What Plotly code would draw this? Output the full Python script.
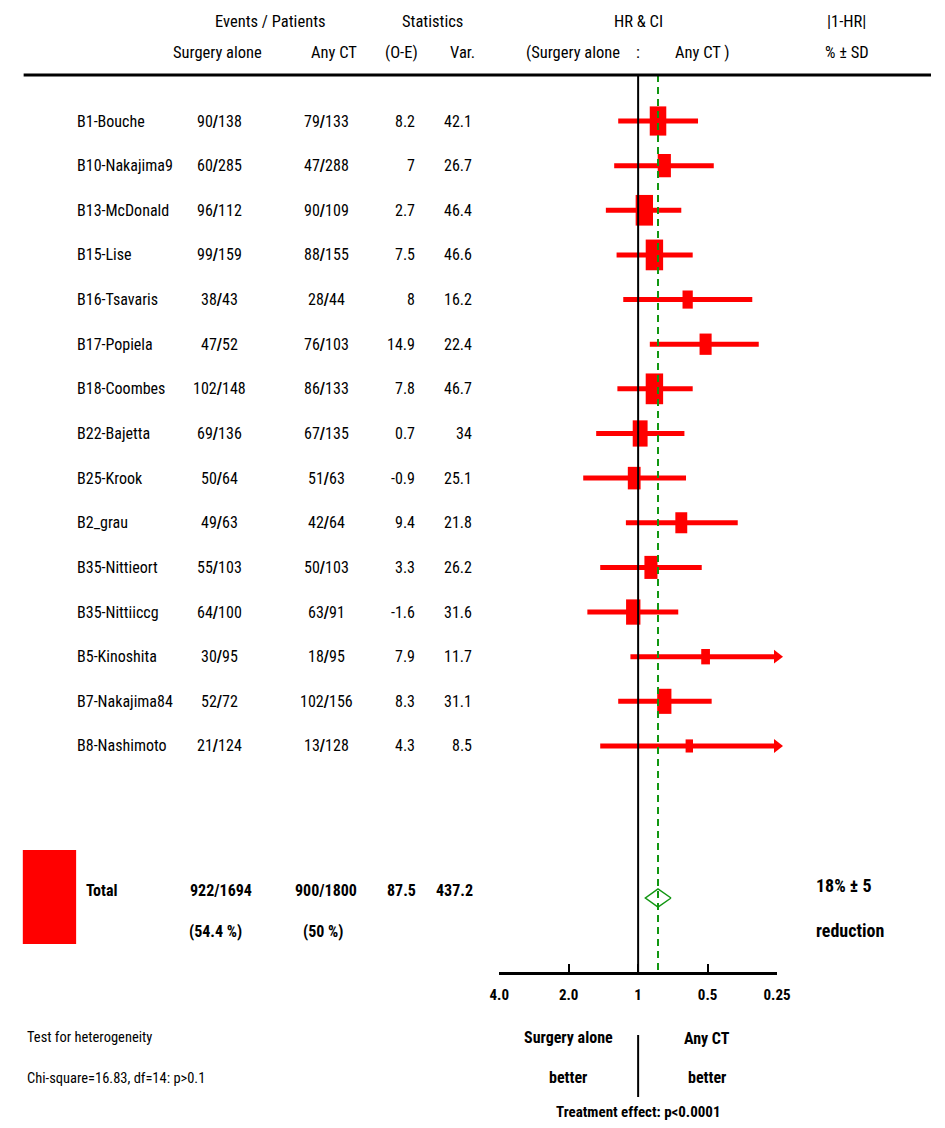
import math
import plotly.graph_objects as go

W, H = 945, 1128

# ---------------- data ----------------
trials = ["B1-Bouche", "B10-Nakajima9", "B13-McDonald", "B15-Lise", "B16-Tsavaris",
          "B17-Popiela", "B18-Coombes", "B22-Bajetta", "B25-Krook", "B2_grau",
          "B35-Nittieort", "B35-Nittiiccg", "B5-Kinoshita", "B7-Nakajima84", "B8-Nashimoto"]
surg_events = [90, 60, 96, 99, 38, 47, 102, 69, 50, 49, 55, 64, 30, 52, 21]
surg_patients = [138, 285, 112, 159, 43, 52, 148, 136, 64, 63, 103, 100, 95, 72, 124]
ct_events = [79, 47, 90, 88, 28, 76, 86, 67, 51, 42, 50, 63, 18, 102, 13]
ct_patients = [133, 288, 109, 155, 44, 103, 133, 135, 63, 64, 103, 91, 95, 156, 128]
o_minus_e = [8.2, 7, 2.7, 7.5, 8, 14.9, 7.8, 0.7, -0.9, 9.4, 3.3, -1.6, 7.9, 8.3, 4.3]
variance = [42.1, 26.7, 46.4, 46.6, 16.2, 22.4, 46.7, 34, 25.1, 21.8, 26.2, 31.6, 11.7, 31.1, 8.5]
hr = [0.82, 0.77, 0.94, 0.85, 0.61, 0.51, 0.85, 0.98, 1.04, 0.65, 0.88, 1.05, 0.51, 0.77, 0.60]
hr_lo = [0.55, 0.47, 0.65, 0.58, 0.32, 0.30, 0.58, 0.63, 0.62, 0.37, 0.53, 0.67, 0.24, 0.48, 0.249]
hr_hi = [1.22, 1.27, 1.38, 1.24, 1.16, 0.89, 1.23, 1.52, 1.73, 1.13, 1.46, 1.66, 1.08, 1.22, 1.46]

total_surg_events, total_surg_patients, total_surg_pct = 922, 1694, 54.4
total_ct_events, total_ct_patients, total_ct_pct = 900, 1800, 50
total_oe, total_var = 87.5, 437.2
total_hr, total_lo, total_hi = 0.82, 0.72, 0.93
reduction_pct, reduction_sd = 18, 5

x_ticks = [4.0, 2.0, 1.0, 0.5, 0.25]
x_tick_labels = ["4.0", "2.0", "1", "0.5", "0.25"]

# ---------------- layout helpers ----------------
ROW0, ROWH = 121.0, 44.64          # pixel y of first row, row spacing


def ry(px):      # pixel y -> row units on the y axis
    return (px - ROW0) / ROWH


def pxx(px):     # pixel x -> paper x
    return px / W


def pyy(px):     # pixel y -> paper y
    return 1 - px / H


FONT = "Roboto Condensed, Liberation Sans Narrow, Arial Narrow, sans-serif"
RED = "#ff0000"
GREEN = "#119611"

rows = list(range(len(trials)))
diamond_row = ry(898)
x_min, x_max = min(x_ticks), max(x_ticks)

fig = go.Figure()

# confidence interval lines
cx, cy = [], []
for lo, hi, r in zip(hr_lo, hr_hi, rows):
    cx += [lo, hi, None]
    cy += [r, r, None]
fig.add_trace(go.Scatter(x=cx, y=cy, mode="lines", line=dict(color=RED, width=5),
                         hoverinfo="skip", showlegend=False))

# squares (area proportional to variance), drawn as thick vertical strokes
SW, SH = 2.55, 4.5   # square width/height in px per sqrt(variance)
for h_, v, r in zip(hr, variance, rows):
    half = SH * math.sqrt(v) / 2 / ROWH
    fig.add_trace(go.Scatter(x=[h_, h_], y=[r - half, r + half], mode="lines",
                             line=dict(color=RED, width=SW * math.sqrt(v)),
                             hoverinfo="skip", showlegend=False))

# arrows for intervals running past the axis
ax_, ay_ = [], []
for lo, r in zip(hr_lo, rows):
    if lo < x_min:
        ax_.append(x_min)
        ay_.append(r)
fig.add_trace(go.Scatter(x=ax_, y=ay_, mode="markers", cliponaxis=False,
                         marker=dict(symbol="triangle-right", size=12, color=RED, line=dict(width=0)),
                         hoverinfo="skip", showlegend=False))

# reference line at HR = 1 and overall effect line
top_r, axis_r = ry(75), ry(973)
fig.add_trace(go.Scatter(x=[1, 1, None, 1, 1], y=[top_r, axis_r, None, ry(1035), ry(1097)],
                         mode="lines", line=dict(color="black", width=2),
                         hoverinfo="skip", showlegend=False))
fig.add_trace(go.Scatter(x=[total_hr, total_hr], y=[top_r, axis_r], mode="lines",
                         line=dict(color=GREEN, width=2, dash="7px,5px"),
                         hoverinfo="skip", showlegend=False))

# overall diamond
dh = 9 / ROWH
fig.add_trace(go.Scatter(x=[total_lo, total_hr, total_hi, total_hr, total_lo],
                         y=[diamond_row, diamond_row - dh, diamond_row, diamond_row + dh, diamond_row],
                         mode="lines", line=dict(color=GREEN, width=1.5),
                         hoverinfo="skip", showlegend=False))

shapes = []
# total box
w = SW * math.sqrt(total_var) / 2
hh = SH * math.sqrt(total_var) / 2
shapes.append(dict(type="rect", xref="paper", yref="paper", xsizemode="pixel", ysizemode="pixel",
                   xanchor=pxx(40.5), yanchor=pyy(897), x0=-w, x1=w, y0=-hh, y1=hh,
                   fillcolor=RED, line=dict(width=0)))
# header rule
shapes.append(dict(type="line", xref="paper", yref="paper", x0=pxx(14), x1=1,
                   y0=pyy(75), y1=pyy(75), line=dict(color="black", width=3)))

ann = []


def txt(text, x, y, anchor="center", size=16, bold=False, yref="paper", color="black"):
    if bold:
        text = "<b>" + text + "</b>"
    ann.append(dict(text=text, x=pxx(x), xref="paper", xanchor=anchor,
                    y=(pyy(y) if yref == "paper" else y), yref=yref, yanchor="middle",
                    showarrow=False, font=dict(family=FONT, size=size, color=color)))


# headers
HS = 16.5
txt("Events / Patients", 267, 22, size=HS)
txt("Statistics", 433, 22, size=HS)
txt("HR &amp; CI", 645, 22, size=HS)
txt("|1-HR|", 858, 22, size=HS)
txt("Surgery alone", 213, 52, size=HS)
txt("Any CT", 358, 52, anchor="right", size=HS)
txt("(O-E)", 402, 52, size=HS)
txt("Var.", 464, 52, size=HS)
txt("(Surgery alone", 527, 52, anchor="left", size=HS)
txt(":", 644, 52, size=HS)
txt("Any CT )", 680, 52, anchor="left", size=HS)
txt("% ± SD", 859, 52, size=HS)

# rows
RS = 16
for i, r in enumerate(rows):
    txt(trials[i], 67, r, anchor="left", size=RS, yref="y")
    txt(f"{surg_events[i]}<b>/</b>{surg_patients[i]}", 215, r, size=RS, yref="y")
    txt(f"{ct_events[i]}<b>/</b>{ct_patients[i]}", 325, r, size=RS, yref="y")
    txt(f"{o_minus_e[i]:g}", 418, r, anchor="right", size=RS, yref="y")
    txt(f"{variance[i]:g}", 476, r, anchor="right", size=RS, yref="y")

# totals
TS = 16
txt("Total", 76, 890, anchor="left", size=TS, bold=True)
txt(f"{total_surg_events}/{total_surg_patients}", 216, 890, size=TS, bold=True)
txt(f"({total_surg_pct:g} %)", 211, 931, size=TS, bold=True)
txt(f"{total_ct_events}/{total_ct_patients}", 324, 890, size=TS, bold=True)
txt(f"({total_ct_pct:g} %)", 321, 931, size=TS, bold=True)
txt(f"{total_oe:g}", 419, 890, anchor="right", size=TS, bold=True)
txt(f"{total_var:g}", 477, 890, anchor="right", size=TS, bold=True)
txt(f"{reduction_pct}% ± {reduction_sd}", 825, 885, anchor="left", size=18, bold=True)
txt("reduction", 825, 930, anchor="left", size=18, bold=True)

# bottom notes
txt("Test for heterogeneity", 15, 1037, anchor="left", size=14.5)
txt("Chi-square=16.83, df=14: p&gt;0.1", 15, 1078, anchor="left", size=14.5)
txt("Surgery alone", 573, 1037, size=16, bold=True)
txt("better", 573, 1077, size=16, bold=True)
txt("Any CT", 715, 1038, size=16, bold=True)
txt("better", 715, 1077, size=16, bold=True)
txt("Treatment effect: p&lt;0.0001", 645, 1112, size=15, bold=True)

fig.update_layout(
    width=W, height=H, margin=dict(l=0, r=0, t=0, b=0, pad=0), autosize=False,
    paper_bgcolor="white", plot_bgcolor="white", showlegend=False,
    xaxis=dict(type="log", range=[math.log10(x_max), math.log10(x_min)],
               domain=[pxx(502), pxx(787)], anchor="free", position=pyy(973),
               showline=True, linecolor="black", linewidth=3,
               ticks="inside", ticklen=8, tickwidth=2, tickcolor="black",
               tickvals=x_ticks, ticktext=["<b>" + t + "</b>" for t in x_tick_labels],
               tickfont=dict(family=FONT, size=15, color="black"),
               ticklabelstandoff=7,
               showgrid=False, zeroline=False, fixedrange=True),
    yaxis=dict(range=[ry(H), ry(0)], domain=[0, 1], visible=False,
               showgrid=False, zeroline=False, fixedrange=True),
    shapes=shapes, annotations=ann,
)

fig.write_html("out.html", config={"responsive": False, "displayModeBar": False},
               post_script="document.body.style.margin='0px';document.body.style.overflow='hidden';")
